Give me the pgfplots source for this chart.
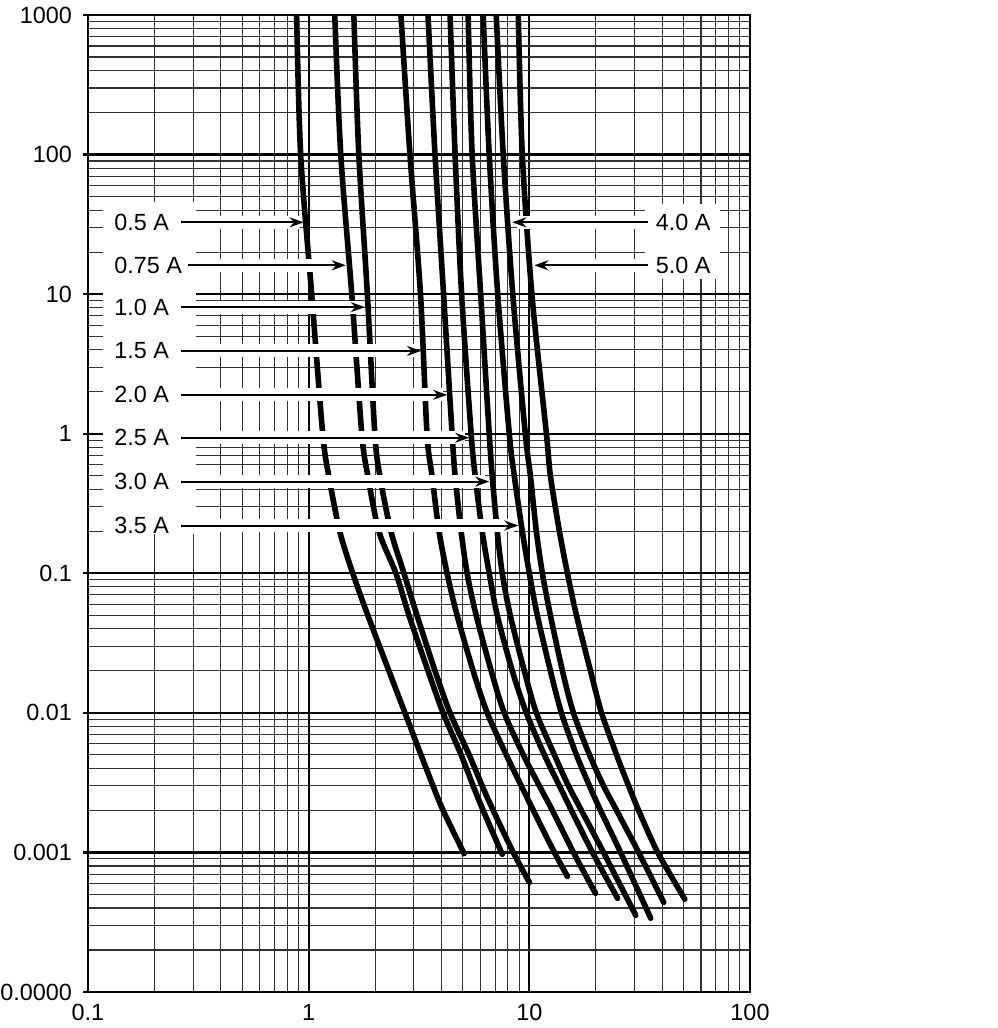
\documentclass[border=0pt]{standalone}
\usepackage{pgfplots}
\pgfplotsset{compat=1.18}
\usepackage{fontspec}
\setmainfont{Liberation Sans}
\usetikzlibrary{arrows.meta}

\begin{document}
\begin{tikzpicture}[font=\fontsize{11.7}{14}\selectfont]
\path[use as bounding box] (-44pt,-18pt) rectangle (454.5pt,496pt);
\begin{axis}[
  at={(0,0)}, anchor=south west,
  scale only axis, width=331pt, height=488.5pt,
  xmode=log, ymode=log,
  xmin=0.1, xmax=100, ymin=0.0001, ymax=1000,
  xtick={0.1,1,10,100}, xticklabels={0.1,1,10,100},
  ytick={0.0001,0.001,0.01,0.1,1,10,100,1000},
  yticklabels={0.0000,0.001,0.01,0.1,1,10,100,1000},
  minor xtick={0.2,0.3,0.4,0.5,0.6,0.7,0.8,0.9,2,3,4,5,6,7,8,9,20,30,40,50,60,70,80,90},
  minor ytick={0.0002,0.0003,0.0004,0.0005,0.0006,0.0007,0.0008,0.0009,
               0.002,0.003,0.004,0.005,0.006,0.007,0.008,0.009,
               0.02,0.03,0.04,0.05,0.06,0.07,0.08,0.09,
               0.2,0.3,0.4,0.5,0.6,0.7,0.8,0.9,
               2,3,4,5,6,7,8,9,20,30,40,50,60,70,80,90,
               200,300,400,500,600,700,800,900},
  grid=both,
  major grid style={black, line width=1.1pt},
  minor grid style={black!80, line width=0.55pt},
  axis line style={black, line width=1.3pt},
  tick align=outside, xtick pos=bottom, ytick pos=left,
  major tick length=2.5pt, minor tick length=0pt,
  xtick style={draw=none},
  ytick style={black, line width=1.1pt},
  yticklabel style={xshift=-2pt},
  tick label style={font=\fontsize{11.7}{14}\selectfont},
  fuse/.style={black, solid, line width=2.8pt, mark=none, line cap=round, line join=round, smooth},
]
% white label boxes
\fill[white] (axis cs:0.117,0.19) rectangle (axis cs:0.31,45.4);
\fill[white] (axis cs:33.3,12.8) rectangle (axis cs:73.1,43.9);

% 0.5 A
\addplot[fuse] coordinates {(0.882,1000) (0.920,100) (1.032,10) (1.158,1) (1.233,0.5) (1.383,0.2) (1.585,0.1) (1.854,0.05) (2.310,0.02) (2.731,0.01) (3.229,0.005) (3.661,0.003) (4.066,0.002) (5.065,0.00098)};
% 0.75 A
\addplot[fuse] coordinates {(1.313,1000) (1.398,100) (1.568,10) (1.741,1) (1.854,0.5) (2.081,0.2) (2.486,0.1) (2.848,0.05) (3.474,0.02) (4.066,0.01) (4.908,0.005) (5.564,0.003) (6.178,0.002) (7.539,0.00097)};
% 1.0 A
\addplot[fuse] coordinates {(1.602,1000) (1.688,100) (1.845,10) (1.995,1) (2.102,0.5) (2.359,0.2) (2.703,0.1) (3.097,0.05) (3.738,0.02) (4.374,0.01) (5.337,0.005) (6.115,0.003) (6.860,0.002) (8.458,0.001) (10.0,0.000611)};
% 1.5 A
\addplot[fuse] coordinates {(2.619,1000) (2.878,100) (3.212,10) (3.438,1) (3.623,0.5) (3.898,0.2) (4.239,0.1) (4.706,0.05) (5.564,0.02) (6.443,0.01) (7.861,0.005) (9.197,0.003) (10.43,0.002) (12.99,0.001) (14.88,0.000674)};
% 2.0 A
\addplot[fuse] coordinates {(3.474,1000) (3.738,100) (4.087,10) (4.467,1) (4.609,0.5) (4.908,0.2) (5.226,0.1) (5.743,0.05) (6.719,0.02) (7.698,0.01) (9.391,0.005) (11.10,0.003) (12.72,0.002) (15.85,0.001) (19.95,0.000509)};
% 2.5 A
\addplot[fuse] coordinates {(4.374,1000) (4.609,100) (4.934,10) (5.449,1) (5.683,0.5) (6.115,0.2) (6.580,0.1) (7.155,0.05) (8.370,0.02) (9.691,0.01) (11.70,0.005) (13.69,0.003) (15.52,0.002) (19.33,0.001) (25.12,0.000469)};
% 3.0 A
\addplot[fuse] coordinates {(5.281,1000) (5.507,100) (6.019,10) (6.580,1) (6.789,0.5) (7.155,0.2) (7.539,0.1) (8.197,0.05) (9.490,0.02) (10.76,0.01) (12.99,0.005) (15.04,0.003) (17.23,0.002) (21.69,0.001) (30.33,0.000355)};
% 3.5 A
\addplot[fuse] coordinates {(6.178,1000) (6.580,100) (7.191,10) (8.112,1) (8.547,0.5) (9.294,0.2) (10.0,0.1) (10.87,0.05) (12.46,0.02) (13.98,0.01) (16.35,0.005) (18.74,0.003) (21.02,0.002) (25.92,0.001) (35.48,0.000338)};
% 4.0 A
\addplot[fuse] coordinates {(7.079,1000) (7.617,100) (8.414,10) (9.590,1) (10.11,0.5) (10.76,0.2) (11.46,0.1) (12.46,0.05) (14.13,0.02) (15.85,0.01) (18.74,0.005) (21.69,0.003) (24.86,0.002) (31.29,0.001) (40.66,0.000439)};
% 5.0 A
\addplot[fuse] coordinates {(8.913,1000) (9.294,100) (10.27,10) (11.95,1) (12.46,0.5) (13.69,0.2) (14.88,0.1) (16.35,0.05) (18.93,0.02) (21.25,0.01) (24.86,0.005) (28.18,0.003) (31.29,0.002) (38.18,0.001) (50.65,0.000462)};

% arrow halos
\begin{scope}[white, line width=6.5pt]
\draw (axis cs:0.265,32.7) -- (axis cs:0.91,32.7);
\draw (axis cs:0.285,16.1) -- (axis cs:1.41,16.1);
\draw (axis cs:0.265,8.07) -- (axis cs:1.72,8.07);
\draw (axis cs:0.265,3.92) -- (axis cs:3.09,3.92);
\draw (axis cs:0.265,1.90) -- (axis cs:4.06,1.90);
\draw (axis cs:0.265,0.936) -- (axis cs:5.11,0.936);
\draw (axis cs:0.265,0.454) -- (axis cs:6.30,0.454);
\draw (axis cs:0.265,0.220) -- (axis cs:8.53,0.220);
\draw (axis cs:34.4,32.7) -- (axis cs:8.75,32.7);
\draw (axis cs:34.4,16.1) -- (axis cs:11.0,16.1);
\end{scope}
% arrows
\begin{scope}[black, line width=1pt, -{Stealth[length=7pt,width=5pt]}]
\draw (axis cs:0.265,32.7) -- (axis cs:0.949,32.7);
\draw (axis cs:0.285,16.1) -- (axis cs:1.473,16.1);
\draw (axis cs:0.265,8.07) -- (axis cs:1.797,8.07);
\draw (axis cs:0.265,3.92) -- (axis cs:3.23,3.92);
\draw (axis cs:0.265,1.90) -- (axis cs:4.24,1.90);
\draw (axis cs:0.265,0.936) -- (axis cs:5.34,0.936);
\draw (axis cs:0.265,0.454) -- (axis cs:6.58,0.454);
\draw (axis cs:0.265,0.220) -- (axis cs:8.91,0.220);
\draw (axis cs:34.4,32.7) -- (axis cs:8.37,32.7);
\draw (axis cs:34.4,16.1) -- (axis cs:10.54,16.1);
\end{scope}
% labels
\begin{scope}[every node/.style={anchor=west, inner sep=0pt}]
\node at (axis cs:0.131,32.7) {0.5 A};
\node at (axis cs:0.131,16.1) {0.75 A};
\node at (axis cs:0.131,8.07) {1.0 A};
\node at (axis cs:0.131,3.92) {1.5 A};
\node at (axis cs:0.131,1.90) {2.0 A};
\node at (axis cs:0.131,0.936) {2.5 A};
\node at (axis cs:0.131,0.454) {3.0 A};
\node at (axis cs:0.131,0.220) {3.5 A};
\node at (axis cs:37.3,32.7) {4.0 A};
\node at (axis cs:37.3,16.1) {5.0 A};
\end{scope}
\end{axis}
\end{tikzpicture}
\end{document}
